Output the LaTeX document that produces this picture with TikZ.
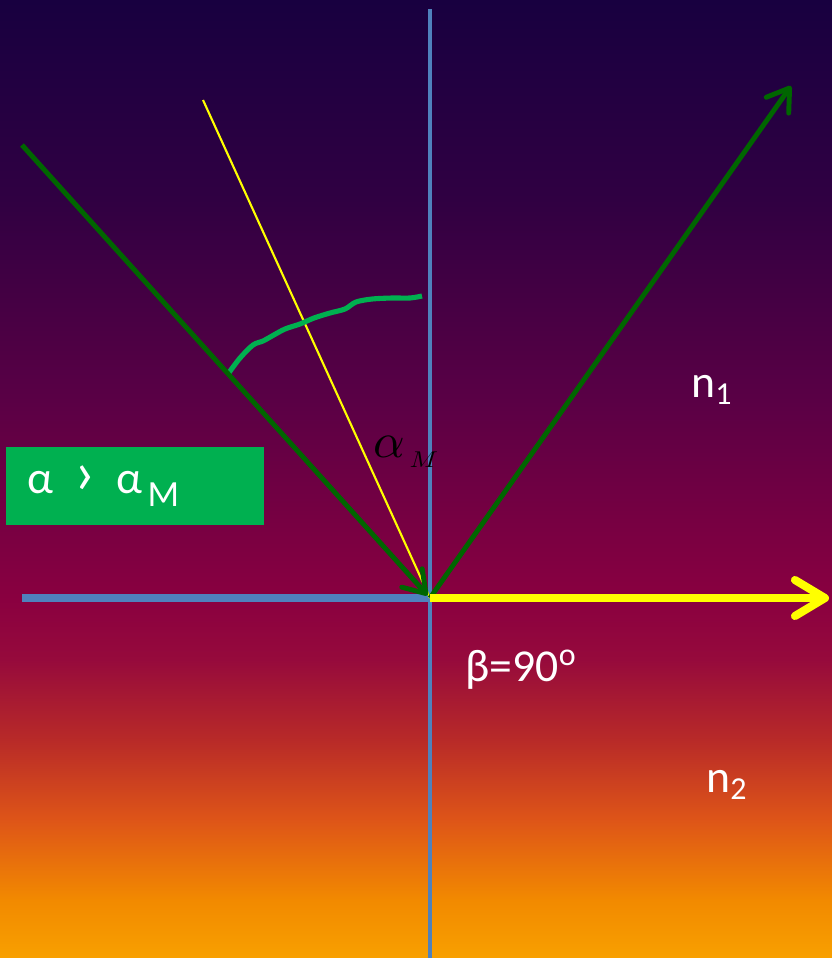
\documentclass[tikz,border=0pt]{standalone}
\usepackage{fontspec}
\newfontfamily\calib{Carlito}
\usepackage{xcolor}
\definecolor{normblue}{RGB}{79, 129, 189}
\definecolor{raygreen}{RGB}{0, 102, 0}
\definecolor{arcgreen}{RGB}{0, 176, 80}
\definecolor{rayyellow}{RGB}{255, 255, 0}
\definecolor{bgtop}{RGB}{24, 0, 64}
\definecolor{bgupper}{RGB}{48, 0, 66}
\definecolor{bgmid}{RGB}{90, 0, 69}
\definecolor{bgiface}{RGB}{138, 0, 64}
\definecolor{bgred}{RGB}{150, 10, 60}
\definecolor{bgbrick}{RGB}{184, 42, 40}
\definecolor{bgrust}{RGB}{222, 85, 24}
\definecolor{bgorange}{RGB}{242, 138, 0}
\definecolor{bgbot}{RGB}{248, 160, 0}
\usepackage{tikz}
\usetikzlibrary{positioning, arrows.meta}

\pgfdeclareverticalshading{bgshade}{100bp}{%
  color(0bp)=(bgbot); color(25bp)=(bgbot); color(28bp)=(bgorange);
  color(32.2bp)=(bgrust); color(36.4bp)=(bgbrick); color(40.6bp)=(bgred);
  color(43.7bp)=(bgiface); color(54.1bp)=(bgmid); color(64.6bp)=(bgupper);
  color(75bp)=(bgtop); color(100bp)=(bgtop)}

\begin{document}
\begin{tikzpicture}[x=0.02cm, y=-0.02cm]

  \tikzstyle{ray} = [line width=2.8pt, color=raygreen,
    -{Straight Barb[round, length=0.42cm, width=0.55cm]}]
  \tikzstyle{refracted} = [line width=4.6pt, color=rayyellow,
    -{Straight Barb[round, length=0.6cm, width=0.72cm]}]
  \tikzstyle{normal} = [line width=1.8pt, color=normblue]
  \tikzstyle{label} = [text=white, font=\calib\fontsize{26}{30}\selectfont, inner sep=0pt]

  \shade[shading=bgshade] (0,0) rectangle (832,958);
  \useasboundingbox (0,0) rectangle (832,958);

  \coordinate (O) at (430,598);
  \coordinate (ntop) at (430,9);
  \coordinate (nbot) at (430,958);
  \coordinate (left) at (22,598);
  \coordinate (src) at (22,145);
  \coordinate (refl) at (791,86);
  \coordinate (out) at (829,598);
  \coordinate (crit) at (203,100);

  \draw[normal] (ntop) -- (nbot);
  \draw[line width=4pt, color=normblue] (left) -- (O);
  \draw[line width=1.2pt, color=rayyellow] (crit) -- (O);

  \draw[line width=2.9pt, color=arcgreen]
    plot[smooth] coordinates {(228,374) (240,358) (253,345) (263,341)
      (272,336) (285,329) (300,324) (314,318) (330,313) (345,309)
      (356,302) (372,299) (392,298) (410,298) (422,296)};

  \draw[ray, shorten >=2pt] (src) -- (O);
  \draw[ray] (O) -- (refl);
  \draw[refracted] (O) -- (out);

  \node[inner sep=0pt] (aM) at (406,452)
    {\scalebox{2.8}{$\alpha$}\hspace{0.08cm}\raisebox{-0.2cm}{\scalebox{1.5}[1.3]{$M$}}};

  \node[label] (beta) at (521,670) {β=90\textsuperscript{o}};
  \node[label] (n1) at (712,390) {n\textsubscript{1}};
  \node[label] (n2) at (727,785) {n\textsubscript{2}};

  \node[fill=arcgreen, anchor=west, minimum height=1.56cm,
    text width=4.32cm, inner xsep=0.42cm, align=left, text=white,
    font=\calib\fontsize{26}{30}\selectfont] (cond) at (6,486)
    {α\hspace{0.42cm}{\fontsize{36}{36}\selectfont ›}\hspace{0.42cm}α\hspace{0.1cm}\raisebox{-0.25cm}{\fontsize{21}{21}\selectfont M}};

\end{tikzpicture}
\end{document}
